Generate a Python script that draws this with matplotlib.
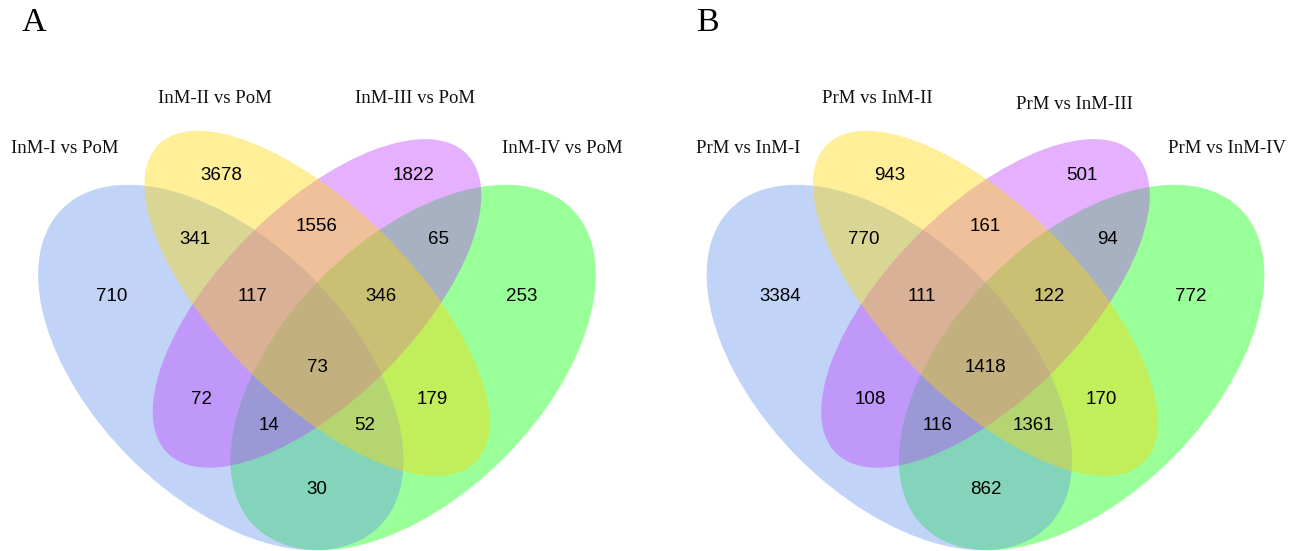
import matplotlib
matplotlib.use("Agg")
import matplotlib.pyplot as plt
from matplotlib.patches import Ellipse

# ---- data ----
panel_tags = ["A", "B"]
set_names_a = ["InM-I vs PoM", "InM-II vs PoM", "InM-III vs PoM", "InM-IV vs PoM"]
set_names_b = ["PrM vs InM-I", "PrM vs InM-II", "PrM vs InM-III", "PrM vs InM-IV"]

# region keys: membership in sets (I, II, III, IV)
regions = ["0100", "0010", "1100", "0110", "0011", "1000", "1110", "0111",
           "0001", "1111", "1010", "0101", "1011", "1101", "1001"]
counts_a = [3678, 1822, 341, 1556, 65, 710, 117, 346, 253, 73, 72, 179, 14, 52, 30]
counts_b = [943, 501, 770, 161, 94, 3384, 111, 122, 772, 1418, 108, 170, 116, 1361, 862]

# ---- layout (unit square, VennDiagram-style quad layout) ----
region_pos = {
    "0100": (0.350, 0.77), "0010": (0.650, 0.77),
    "1100": (0.310, 0.67), "0110": (0.500, 0.69), "0011": (0.690, 0.67),
    "1000": (0.180, 0.58), "1110": (0.400, 0.58), "0111": (0.600, 0.58),
    "0001": (0.820, 0.58), "1111": (0.500, 0.47),
    "1010": (0.320, 0.42), "0101": (0.680, 0.42),
    "1011": (0.425, 0.38), "1101": (0.575, 0.38), "1001": (0.500, 0.28),
}
# x, y, semi-major, semi-minor, angle, colour  (draw order: IV, I, III, II)
ellipses = [
    (0.65, 0.47, 0.35, 0.20, 45, "#00FF00"),   # IV
    (0.35, 0.47, 0.35, 0.20, 135, "#6495ED"),  # I
    (0.50, 0.57, 0.33, 0.15, 45, "#BF3EFF"),   # III
    (0.50, 0.57, 0.35, 0.15, 135, "#FFD700"),  # II
]
cat_pos_a = [(0.106, 0.811), (0.341, 0.889), (0.653, 0.889), (0.883, 0.811)]
cat_pos_b = [(0.130, 0.811), (0.332, 0.889), (0.638, 0.880), (0.877, 0.811)]

W, H = 1301, 551
K = 641  # pixels per unit
centers = [317, 985.5]
tag_x = [21.7, 696.7]

fig = plt.figure(figsize=(W / 100, H / 100), dpi=100)
fig.patch.set_facecolor("white")

serif = ["Liberation Serif", "DejaVu Serif"]
sans = ["Liberation Sans", "DejaVu Sans"]

panels = [(set_names_a, counts_a, cat_pos_a), (set_names_b, counts_b, cat_pos_b)]
for tag, tx, cx, (names, counts, cat_pos) in zip(panel_tags, tag_x, centers, panels):
    left = (cx - 0.5 * K) / W
    bottom = (H - (367.5 + 0.47 * K)) / H
    ax = fig.add_axes([left, bottom, K / W, K / H])
    ax.set_xlim(0, 1)
    ax.set_ylim(0, 1)
    ax.axis("off")

    for x, y, a, b, ang, col in ellipses:
        ax.add_patch(Ellipse((x, y), 2 * a, 2 * b, angle=ang,
                             facecolor=col, edgecolor="none", alpha=0.4))

    for key, n in zip(regions, counts):
        u, v = region_pos[key]
        ax.text(u, v, str(n), ha="center", va="center", fontsize=13.5,
                family=sans, color="black")

    for name, (u, v) in zip(names, cat_pos):
        ax.text(u, v, name, ha="center", va="center", fontsize=13.5,
                family=serif, color="#111111", clip_on=False)

    fig.text(tx / W, 1 - 23 / H, tag, ha="left", va="center",
             fontsize=24.5, family=serif)

fig.savefig("out.png", dpi=100, facecolor="white")
